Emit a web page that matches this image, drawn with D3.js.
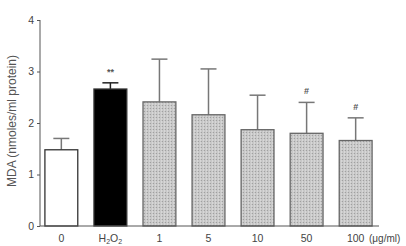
<!DOCTYPE html>
<html>
<head>
<meta charset="utf-8">
<script src="https://cdn.jsdelivr.net/npm/d3@7"></script>
<style>
  body { margin: 0; background: #fff; }
  text { font-family: "Liberation Sans", Arial, sans-serif; fill: #333; }
</style>
</head>
<body>
<svg id="chart" width="406" height="246"></svg>
<script>
const groups = ["0", "H2O2", "1", "5", "10", "50", "100"];
const meanValues = [1.48, 2.66, 2.41, 2.16, 1.87, 1.80, 1.66];
const sdValues = [0.22, 0.12, 0.83, 0.89, 0.67, 0.60, 0.44];
const marks = ["", "**", "", "", "", "#", "#"];
const fillKinds = ["white", "black", "dots", "dots", "dots", "dots", "dots"];
const yTicks = [0, 1, 2, 3, 4];

const svg = d3.select("#chart");

// stipple pattern for the gray bars
const defs = svg.append("defs");
const pat = defs.append("pattern")
  .attr("id", "stipple")
  .attr("width", 3).attr("height", 3)
  .attr("patternUnits", "userSpaceOnUse");
pat.append("rect").attr("width", 3).attr("height", 3).attr("fill", "#c8c8c8");
pat.append("rect").attr("x", 0).attr("y", 0).attr("width", 1).attr("height", 1).attr("fill", "#a0a0a0");
pat.append("rect").attr("x", 2).attr("y", 1.5).attr("width", 1).attr("height", 1).attr("fill", "#e6e6e6");

const x = d3.scaleBand()
  .domain(groups)
  .range([40, 377])
  .paddingInner(0.33)
  .paddingOuter(0.1);

const y = d3.scaleLinear()
  .domain([0, 4])
  .range([226, 20]);

// error bars (upper only) drawn first so the bars cover the stems
const err = svg.append("g");
groups.forEach((g, i) => {
  const cx = x(g) + x.bandwidth() / 2;
  const col = i === 1 ? "#222" : "#777";
  err.append("line")
    .attr("x1", cx).attr("x2", cx)
    .attr("y1", y(meanValues[i])).attr("y2", y(meanValues[i] + sdValues[i]))
    .attr("stroke", col).attr("stroke-width", 1.5);
  err.append("line")
    .attr("x1", cx - 8).attr("x2", cx + 8)
    .attr("y1", y(meanValues[i] + sdValues[i])).attr("y2", y(meanValues[i] + sdValues[i]))
    .attr("stroke", col).attr("stroke-width", 1.5);
});

svg.append("g").selectAll("rect")
  .data(groups)
  .join("rect")
    .attr("x", d => x(d))
    .attr("y", (d, i) => y(meanValues[i]))
    .attr("width", x.bandwidth())
    .attr("height", (d, i) => y(0) - y(meanValues[i]))
    .attr("fill", (d, i) => fillKinds[i] === "dots" ? "url(#stipple)" : fillKinds[i])
    .attr("stroke", (d, i) => fillKinds[i] === "dots" ? "#666" : "#333")
    .attr("stroke-width", 1.3);

// significance marks
svg.append("g").selectAll("text")
  .data(groups)
  .join("text")
    .attr("x", d => x(d) + x.bandwidth() / 2)
    .attr("y", (d, i) => y(meanValues[i] + sdValues[i]) - 8)
    .attr("text-anchor", "middle")
    .attr("font-size", 9)
    .attr("font-weight", "bold")
    .style("fill", "#555")
    .text((d, i) => marks[i]);

// y axis
const yAxis = svg.append("g")
  .attr("transform", "translate(40,0)")
  .call(d3.axisLeft(y).tickValues(yTicks).tickSize(3).tickPadding(3).tickFormat(d3.format("d")));
yAxis.select(".domain").attr("stroke", "#555").attr("d", "M0,226V20");
yAxis.selectAll(".tick line").attr("stroke", "#555");
yAxis.selectAll(".tick text").attr("font-size", 10.5).style("fill", "#444");

// x axis baseline
svg.append("line")
  .attr("x1", 40).attr("x2", 379)
  .attr("y1", y(0)).attr("y2", y(0))
  .attr("stroke", "#555").attr("stroke-width", 1);

// x labels
const xl = svg.append("g");
groups.forEach(g => {
  const t = xl.append("text")
    .attr("x", x(g) + x.bandwidth() / 2)
    .attr("y", 242)
    .attr("text-anchor", "middle")
    .attr("font-size", 10.5)
    .style("fill", "#444");
  if (g === "H2O2") {
    t.append("tspan").text("H");
    t.append("tspan").attr("font-size", 7).attr("dy", 2).text("2");
    t.append("tspan").attr("dy", -2).text("O");
    t.append("tspan").attr("font-size", 7).attr("dy", 2).text("2");
  } else {
    t.text(g);
  }
});
xl.append("text")
  .attr("x", 369)
  .attr("y", 242)
  .attr("font-size", 10)
  .style("fill", "#444")
  .text("(\u03bcg/ml)");

// y label
svg.append("text")
  .attr("transform", "translate(16,121) rotate(-90)")
  .attr("text-anchor", "middle")
  .attr("font-size", 12)
  .style("fill", "#555")
  .text("MDA (nmoles/ml protein)");
</script>
</body>
</html>
